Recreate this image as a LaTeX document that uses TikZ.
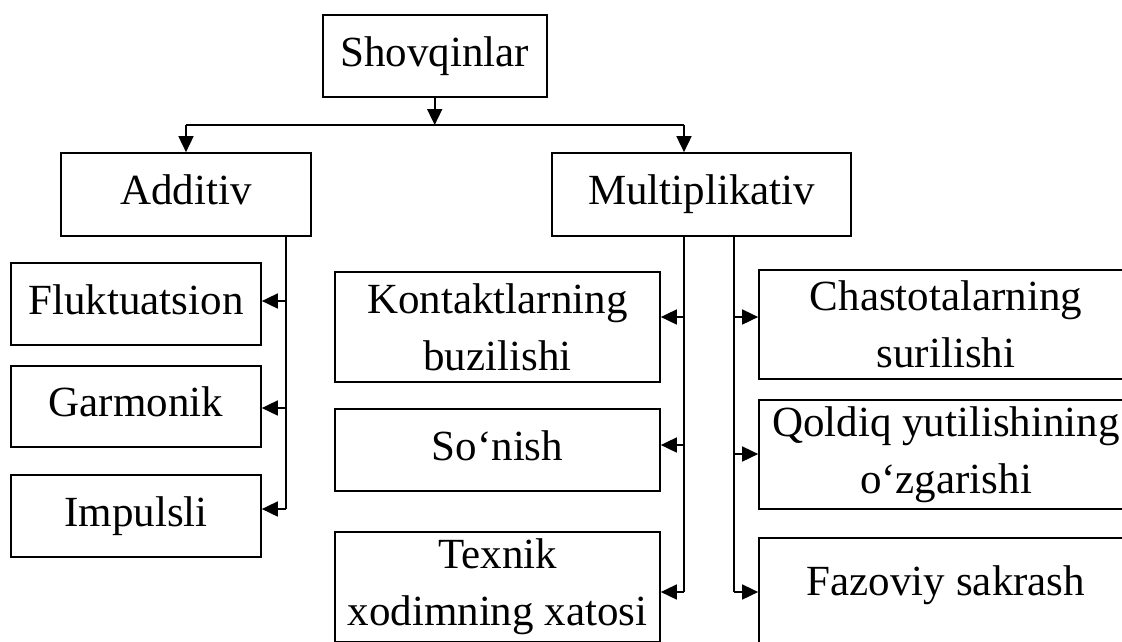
\documentclass[tikz,border=0pt]{standalone}
\usepackage{fontspec}
\setmainfont{Liberation Serif}
\usetikzlibrary{arrows.meta}
\begin{document}
\begin{tikzpicture}[x=1pt,y=-1pt,
  box/.style={draw,line width=1.7pt,inner sep=0pt,align=center,font=\fontsize{43}{57}\selectfont},
  oneline/.style={text height=30pt,text depth=10pt},
  ln/.style={line width=1.7pt},
  arr/.style={line width=1.7pt,-{Triangle[length=16pt,width=15pt]}}]
\useasboundingbox (0,0) rectangle (1122,641);
\clip (0,0) rectangle (1122,641);
% boxes
\node[box,oneline,minimum width=224pt,minimum height=82pt] (shov) at (434.7,56) {Shovqinlar};
\node[box,oneline,minimum width=250pt,minimum height=83pt] (add) at (186,194.5) {Additiv};
\node[box,oneline,minimum width=299pt,minimum height=83pt] (mul) at (701.5,194.5) {Multiplikativ};
\node[box,oneline,minimum width=250pt,minimum height=82pt] (fluk) at (136,304) {Fluktuatsion};
\node[box,oneline,minimum width=250pt,minimum height=81pt] (garm) at (136,406.5) {Garmonik};
\node[box,oneline,minimum width=250pt,minimum height=82pt] (imp) at (136,516) {Impulsli};
\node[box,minimum width=325pt,minimum height=110pt] (kont) at (497.5,327) {Kontaktlarning\\buzilishi};
\node[box,oneline,minimum width=325pt,minimum height=82pt] (son) at (497.5,450) {So‘nish};
\node[box,minimum width=325pt,minimum height=110pt] (tex) at (497.5,587) {Texnik\\xodimning xatosi};
\node[box,minimum width=374pt,minimum height=109pt] (chas) at (946,324.5) {Chastotalarning\\surilishi};
\node[box,minimum width=374pt,minimum height=109pt] (qol) at (946,454.5) {Qoldiq yutilishining\\o‘zgarishi};
\node[box,minimum width=374pt,text height=58pt,text depth=70pt,anchor=north] (faz) at (946,537) {Fazoviy sakrash};
% junction points
\coordinate (j) at (434.7,125);
\coordinate (hl) at (186,125);
\coordinate (hr) at (684,125);
\coordinate (a1) at (286,301);
\coordinate (a2) at (286,408);
\coordinate (a3) at (286,509);
\coordinate (l1) at (684,317);
\coordinate (l2) at (684,445);
\coordinate (l3) at (684,592);
\coordinate (r1) at (734,317);
\coordinate (r2) at (734,454);
\coordinate (r3) at (734,592);
% connectors
\draw[arr] (shov.south) -- (j);
\draw[ln] (hl) -- (hr);
\draw[arr] (hl) -- (add.north);
\draw[arr] (hr) -- (hr |- mul.north);
\draw[ln] (add.south -| a1) -- (a3);
\draw[arr] (a1) -- (fluk.east |- a1);
\draw[arr] (a2) -- (garm.east |- a2);
\draw[arr] (a3) -- (imp.east |- a3);
\draw[ln] (mul.south -| l1) -- (l3);
\draw[arr] (l1) -- (kont.east |- l1);
\draw[arr] (l2) -- (son.east |- l2);
\draw[arr] (l3) -- (tex.east |- l3);
\draw[ln] (mul.south -| r1) -- (r3);
\draw[arr] (r1) -- (chas.west |- r1);
\draw[arr] (r2) -- (qol.west |- r2);
\draw[arr] (r3) -- (faz.west |- r3);
\end{tikzpicture}
\end{document}
